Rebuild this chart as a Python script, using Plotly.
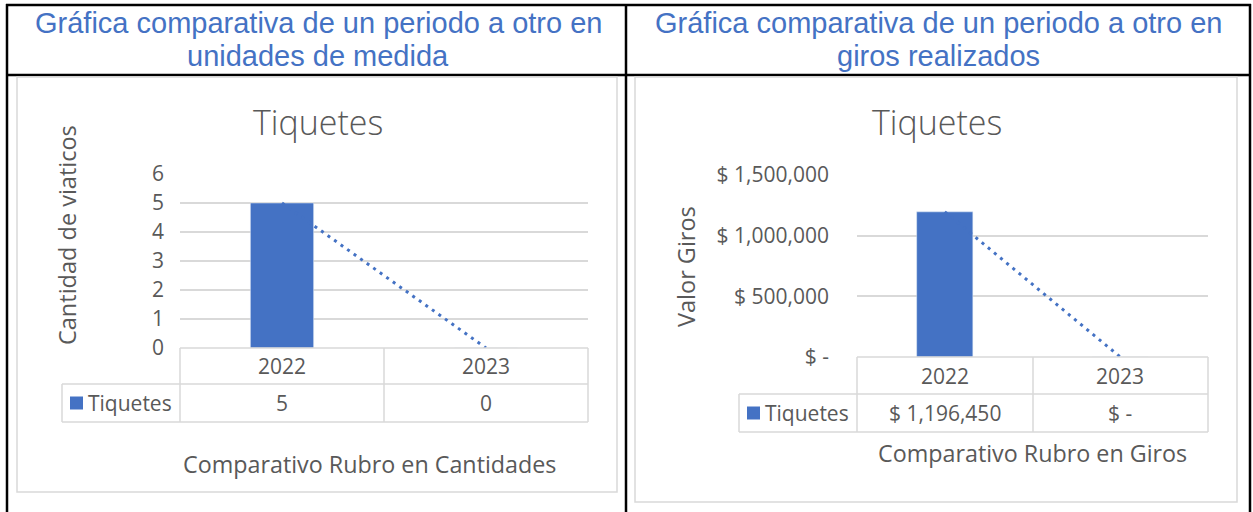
import numpy as np
import plotly.graph_objects as go

# ---------------- data ----------------
categories = ["2022", "2023"]
series_name = "Tiquetes"
cantidades = [5, 0]
giros = [1196450, 0]
left_yticks = [0, 1, 2, 3, 4, 5, 6]
right_yticks = [0, 500000, 1000000, 1500000]

cell_titles = [["Gráfica comparativa de un periodo a otro en", "unidades de medida"],
               ["Gráfica comparativa de un periodo a otro en", "giros realizados"]]
chart_title = "Tiquetes"
left_ytitle = "Cantidad de viaticos"
right_ytitle = "Valor Giros"
left_xtitle = "Comparativo Rubro en Cantidades"
right_xtitle = "Comparativo Rubro en Giros"

# ---------------- style ----------------
W, H = 1253, 512
BLUE = "#4472C4"
GRAY = "#595959"
GRID = "#D9D9D9"
FONT = "Open Sans"


def X(px):
    return px / W


def Y(py):
    return 1 - py / H


def money(v):
    return "$ -" if v == 0 else "$ {:,.0f}".format(v)


def trend(vals):
    idx = np.arange(len(vals))
    m, b = np.polyfit(idx, np.array(vals, dtype=float), 1)
    return list(m * idx + b)


fig = go.Figure()

fig.add_trace(go.Bar(x=categories, y=cantidades, marker_color=BLUE, width=0.31,
                     xaxis="x", yaxis="y", name=series_name, showlegend=False))
fig.add_trace(go.Scatter(x=categories, y=trend(cantidades), mode="lines",
                         line=dict(color=BLUE, width=3, dash="3px,5px"),
                         xaxis="x", yaxis="y", showlegend=False))
fig.add_trace(go.Bar(x=categories, y=giros, marker_color=BLUE, width=0.32,
                     xaxis="x2", yaxis="y2", name=series_name, showlegend=False))
fig.add_trace(go.Scatter(x=categories, y=trend(giros), mode="lines",
                         line=dict(color=BLUE, width=3, dash="3px,5px"),
                         xaxis="x2", yaxis="y2", showlegend=False))

tickfont = dict(family=FONT, size=21, color=GRAY)

fig.update_layout(
    width=W, height=H, margin=dict(l=0, r=0, t=0, b=0, pad=0),
    paper_bgcolor="white", plot_bgcolor="rgba(0,0,0,0)",
    showlegend=False,
    xaxis=dict(domain=[X(180), X(588)], type="category", range=[-0.5, 1.5],
               showticklabels=False, showgrid=False, zeroline=False, showline=False,
               automargin=False, fixedrange=True),
    yaxis=dict(domain=[Y(348), Y(174)], range=[0, 6], tickvals=left_yticks,
               ticktext=[str(v) for v in left_yticks], tickfont=tickfont,
               showgrid=True, gridcolor=GRID, gridwidth=1.5, zeroline=False,
               showline=False, ticks="", ticklabelstandoff=15, automargin=False,
               fixedrange=True),
    xaxis2=dict(domain=[X(857), X(1208)], type="category", range=[-0.5, 1.5],
                anchor="y2", showticklabels=False, showgrid=False, zeroline=False,
                showline=False, automargin=False, fixedrange=True),
    yaxis2=dict(domain=[Y(357), Y(175)], range=[0, 1500000], anchor="x2",
                tickvals=right_yticks, ticktext=[money(v) for v in right_yticks],
                tickfont=tickfont, showgrid=True, gridcolor=GRID, gridwidth=1.5,
                zeroline=False, showline=False, ticks="", ticklabelstandoff=27,
                automargin=False, fixedrange=True),
)

shapes = []
ann = []


def line(x0, y0, x1, y1, color, width):
    shapes.append(dict(type="line", xref="paper", yref="paper",
                       x0=X(x0), y0=Y(y0), x1=X(x1), y1=Y(y1),
                       line=dict(color=color, width=width)))


def text(x, y, s, size, color=GRAY, xref="paper", angle=0, family=FONT,
         xanchor="center", weight=None):
    f = dict(family=family, size=size, color=color)
    if weight:
        f["weight"] = weight
    ann.append(dict(text=s, x=(X(x) if xref == "paper" else x), y=Y(y),
                    xref=xref, yref="paper", showarrow=False, textangle=angle,
                    xanchor=xanchor, yanchor="middle", font=f))


# Word table borders (black)
line(6, 5, 1251, 5, "black", 2.5)
line(6, 75, 1251, 75, "black", 2.5)
line(7, 4, 7, 512, "black", 2.5)
line(626, 4, 626, 512, "black", 2.5)
line(1250, 4, 1250, 512, "black", 2.5)

# chart area borders
shapes.append(dict(type="rect", xref="paper", yref="paper", x0=X(17), x1=X(617),
                   y0=Y(492), y1=Y(77), line=dict(color=GRID, width=1.5)))
shapes.append(dict(type="rect", xref="paper", yref="paper", x0=X(635), x1=X(1237),
                   y0=Y(502), y1=Y(77), line=dict(color=GRID, width=1.5)))

# cell titles
for cx, lines in zip((318, 938), cell_titles):
    text(cx, 23, lines[0], 29, color=BLUE, family="Liberation Sans")
    text(cx, 56, lines[1], 29, color=BLUE, family="Liberation Sans")


def data_table(xa, left, c0, c1, c2, r0, r1, r2, values, fmt):
    line(c0, r0, c2, r0, GRID, 1.5)
    line(left, r1, c2, r1, GRID, 1.5)
    line(left, r2, c2, r2, GRID, 1.5)
    line(left, r1, left, r2, GRID, 1.5)
    for c in (c0, c1, c2):
        line(c, r0, c, r2, GRID, 1.5)
    ymid0 = (r0 + r1) / 2
    ymid1 = (r1 + r2) / 2
    for i, (cat, v) in enumerate(zip(categories, values)):
        text(i, ymid0, cat, 21, xref=xa)
        text(i, ymid1, fmt(v), 21, xref=xa)
    shapes.append(dict(type="rect", xref="paper", yref="paper",
                       x0=X(left + 8), x1=X(left + 21), y0=Y(ymid1 + 6.5), y1=Y(ymid1 - 6.5),
                       fillcolor=BLUE, line=dict(width=0)))
    text(left + 24, ymid1, series_name, 21, xanchor="left")


data_table("x", 62, 180, 384, 588, 348, 384, 422, cantidades, lambda v: str(v))
data_table("x2", 739, 857, 1033, 1208, 357, 394, 432, giros, money)

# chart titles & axis titles
text(318, 122, chart_title, 34, weight=300)
text(937, 122, chart_title, 34, weight=300)
text(67, 235, left_ytitle, 23.5, angle=-90)
text(686, 267, right_ytitle, 23.5, angle=-90)
text(369, 464, left_xtitle, 23.3)
text(1032, 453, right_xtitle, 23.3)

fig.update_layout(shapes=shapes, annotations=ann)
fig.write_html("out.html", config={"displayModeBar": False},
               post_script="document.body.style.margin='0';document.body.style.overflow='hidden';")
